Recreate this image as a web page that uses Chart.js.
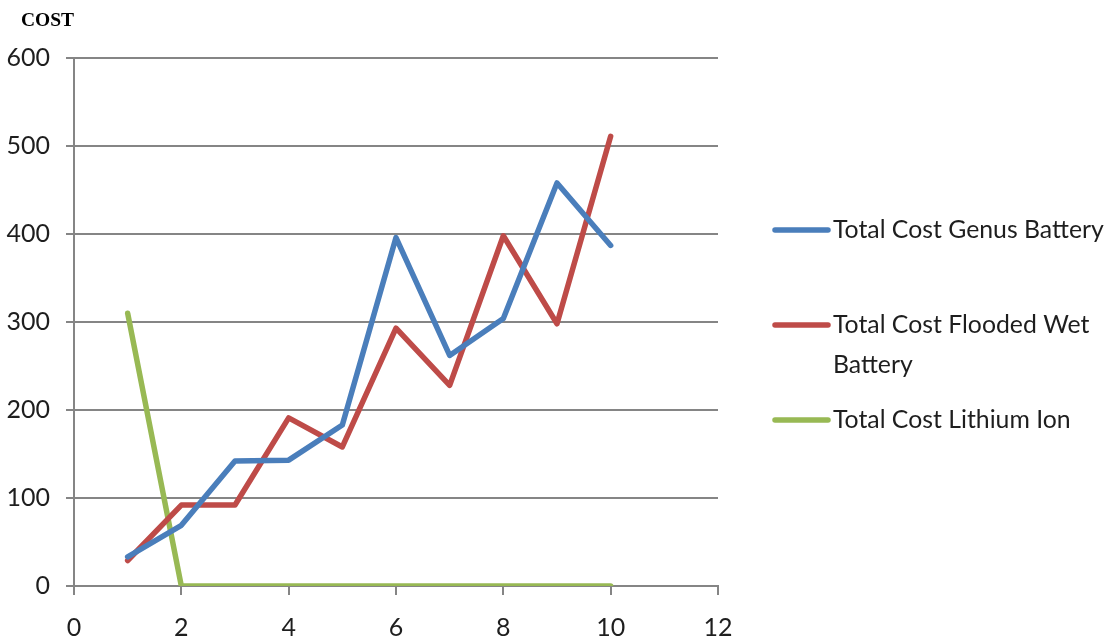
<!DOCTYPE html>
<html>
<head>
<meta charset="utf-8">
<script src="https://cdn.jsdelivr.net/npm/chart.js@4.4.1/dist/chart.umd.min.js"></script>
<style>
  html, body { margin: 0; padding: 0; background: #ffffff; }
  #wrap { position: relative; width: 1112px; height: 643px; }
</style>
</head>
<body>
<div id="wrap"><canvas id="c" width="1112" height="643"></canvas></div>
<script>
// Cost per year for three battery types
const years = [1, 2, 3, 4, 5, 6, 7, 8, 9, 10];
const genusCost = [33, 69, 142, 143, 183, 396, 262, 304, 458, 387];
const floodedCost = [29, 92, 92, 191, 158, 293, 228, 398, 298, 511];
const lithiumCost = [310, 0, 0, 0, 0, 0, 0, 0, 0, 0];

const seriesNames = [
  ['Total Cost Genus Battery'],
  ['Total Cost Flooded Wet', 'Battery'],
  ['Total Cost Lithium Ion']
];
const seriesColors = ['#4a7ebb', '#be4b48', '#98b954'];
const xTicks = [0, 2, 4, 6, 8, 10, 12];
const yTicks = [0, 100, 200, 300, 400, 500, 600];
const axisTitle = 'COST';

const GRID = '#858585';
const TEXT = '#1e1e1e';
const FONT = 'Lato, "Open Sans", sans-serif';

const toPoints = vals => vals.map((v, i) => ({ x: years[i], y: v }));

// Axis title above the value axis and a wrapped legend on the right
const decorations = {
  id: 'decorations',
  afterDraw(chart) {
    const ctx = chart.ctx;
    ctx.save();
    ctx.fillStyle = '#000';
    ctx.font = 'bold 19.5px "Liberation Serif", "Times New Roman", serif';
    ctx.textBaseline = 'alphabetic';
    ctx.textAlign = 'left';
    ctx.fillText(axisTitle, 21, 26);

    // legend text sized so the longest entry fits the space right of the swatches
    const textLeft = 833;
    const available = 1104 - textLeft;
    let size = 26.5;
    ctx.font = size + 'px ' + FONT;
    const widest = Math.max(...seriesNames.flat().map(t => ctx.measureText(t).width));
    if (widest > available) size = size * available / widest;
    ctx.font = size + 'px ' + FONT;

    const rows = [230, 325, 420];
    ctx.textBaseline = 'middle';
    seriesNames.forEach((lines, i) => {
      const y = rows[i];
      ctx.strokeStyle = seriesColors[i];
      ctx.lineWidth = 5.5;
      ctx.lineCap = 'round';
      ctx.beginPath();
      ctx.moveTo(775, y);
      ctx.lineTo(828, y);
      ctx.stroke();
      ctx.fillStyle = TEXT;
      lines.forEach((t, k) => ctx.fillText(t, textLeft, y + k * 40));
    });
    ctx.restore();
  }
};

new Chart(document.getElementById('c'), {
  type: 'line',
  data: {
    datasets: [
      { label: seriesNames[0].join(' '), data: toPoints(genusCost), borderColor: seriesColors[0] },
      { label: seriesNames[1].join(' '), data: toPoints(floodedCost), borderColor: seriesColors[1] },
      { label: seriesNames[2].join(' '), data: toPoints(lithiumCost), borderColor: seriesColors[2] }
    ].map(d => Object.assign(d, {
      borderWidth: 5.5,
      pointRadius: 0,
      tension: 0,
      fill: false,
      borderCapStyle: 'round',
      borderJoinStyle: 'round'
    }))
  },
  options: {
    responsive: false,
    animation: false,
    devicePixelRatio: 1,
    layout: { padding: { left: 0, right: 394, top: 58, bottom: 0 } },
    plugins: { legend: { display: false }, tooltip: { enabled: false } },
    scales: {
      x: {
        type: 'linear',
        min: 0,
        max: 12,
        afterBuildTicks: s => { s.ticks = xTicks.map(v => ({ value: v })); },
        afterFit: s => { s.height = 57; },
        grid: { drawOnChartArea: false, drawTicks: true, tickLength: 9, color: GRID, lineWidth: 2 },
        border: { display: true, color: GRID, width: 2 },
        ticks: { padding: 18, color: TEXT, font: { family: FONT, size: 25 }, maxRotation: 0 }
      },
      y: {
        min: 0,
        max: 600,
        afterBuildTicks: s => { s.ticks = yTicks.map(v => ({ value: v })); },
        afterFit: s => { s.width = 74; },
        grid: { drawTicks: true, tickLength: 8, color: GRID, lineWidth: 2 },
        border: { display: true, color: GRID, width: 2 },
        ticks: { padding: 16, color: TEXT, font: { family: FONT, size: 25 } }
      }
    }
  },
  plugins: [decorations]
});
</script>
</body>
</html>
